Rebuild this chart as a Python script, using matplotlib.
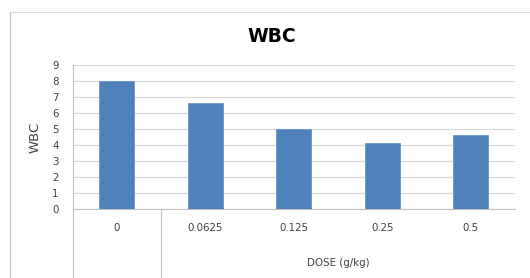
import matplotlib
matplotlib.use("Agg")
import matplotlib.pyplot as plt
from matplotlib.lines import Line2D

categories = ["0", "0.0625", "0.125", "0.25", "0.5"]
wbc = [8.0, 6.6, 5.0, 4.13, 4.63]
yticks = list(range(0, 10))
title = "WBC"
ylabel = "WBC"
xlabel = "DOSE (g/kg)"

W, H = 530, 278
fig = plt.figure(figsize=(W / 100, H / 100), dpi=100)
fig.patch.set_facecolor("white")

def fx(px):
    return px / W

def fy(py):
    return 1 - py / H

ax_l, ax_r, ax_t, ax_b = 72.5, 515, 64.5, 209
ax = fig.add_axes([fx(ax_l), fy(ax_b), fx(ax_r - ax_l), (ax_b - ax_t) / H])

x = list(range(len(categories)))
ax.bar(x, wbc, width=0.4, color="#4F81BD", edgecolor="#6A95C8", linewidth=0.6, zorder=3)
ax.set_xlim(-0.5, len(categories) - 0.5)
ax.set_ylim(0, 9)
ax.set_yticks(yticks)
ax.set_yticklabels([str(t) for t in yticks], fontsize=7.4, color="#404040")
ax.tick_params(axis="y", length=0, pad=10)
ax.set_xticks([])
ax.yaxis.grid(True, color="#D9D9D9", linewidth=0.8, zorder=0)
for side in ["top", "right"]:
    ax.spines[side].set_visible(False)
ax.spines["left"].set_color("#BFBFBF")
ax.spines["bottom"].set_color("#BFBFBF")
ax.spines["left"].set_linewidth(0.8)
ax.spines["bottom"].set_linewidth(0.8)

# category labels below axis
for i, c in enumerate(categories):
    xp = ax_l + (i + 0.5) * (ax_r - ax_l) / len(categories)
    fig.text(fx(xp), fy(228), c, ha="center", va="center", fontsize=7.4, color="#404040")

# second-level category label
sep = ax_l + (ax_r - ax_l) / len(categories)
fig.text(fx((sep + ax_r) / 2), fy(263), xlabel, ha="center", va="center", fontsize=7.4, color="#404040")

# separator lines of the category table
for xp in [ax_l, sep]:
    fig.add_artist(Line2D([fx(xp), fx(xp)], [fy(209), fy(278)], color="#BFBFBF", linewidth=0.8))

# outer chart frame
fig.add_artist(Line2D([fx(9.5), fx(9.5)], [fy(12), fy(278)], color="#BFBFBF", linewidth=0.8))
fig.add_artist(Line2D([fx(9.5), fx(530)], [fy(12), fy(12)], color="#D9D9D9", linewidth=0.8))

fig.text(fx(272), fy(36), title, ha="center", va="center", fontsize=13.5, fontweight="bold", color="black")
fig.text(fx(35), fy(137), ylabel, ha="center", va="center", rotation=90, fontsize=9.5, color="#404040")

fig.savefig("out.png", dpi=100)
